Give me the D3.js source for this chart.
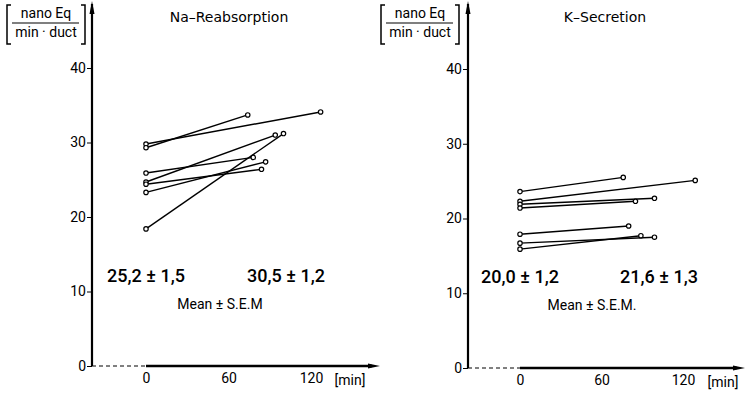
<!DOCTYPE html>
<html>
<head>
<meta charset="utf-8">
<script src="https://cdn.jsdelivr.net/npm/d3@7"></script>
<style>
  body { margin: 0; background: #fff; }
  svg { display: block; font-family: "DejaVu Sans", sans-serif; }
</style>
</head>
<body>
<svg id="chart" width="747" height="396"></svg>
<script>
// values
const yTicks = [0, 10, 20, 30, 40];
const xTicks = [0, 60, 120];

const naStart = [29.8, 29.3, 25.9, 24.7, 24.4, 23.3, 18.4];
const naEnd = [34.1, 33.7, 28.0, 31.0, 26.4, 27.4, 31.2];
const naEndTime = [127, 74, 78, 94, 84, 87, 100];

const kStart = [23.6, 22.3, 21.9, 21.4, 17.9, 16.7, 15.9];
const kEnd = [25.5, 25.1, 22.7, 22.3, 19.0, 17.5, 17.7];
const kEndTime = [76, 129, 99, 85, 80, 99, 89];

const naMeans = ['25,2 \u00b1 1,5', '30,5 \u00b1 1,2'];
const kMeans = ['20,0 \u00b1 1,2', '21,6 \u00b1 1,3'];

const svg = d3.select('#chart');

function drawPanel(cfg) {
  const x = d3.scaleLinear().domain([0, 120]).range([cfg.x0, cfg.x120]);
  const y = d3.scaleLinear().domain([0, 40]).range([cfg.y0, cfg.y40]);
  const g = svg.append('g');

  // y axis ticks + labels
  const yAxis = d3.axisLeft(y).tickValues(yTicks).tickSize(5).tickPadding(1);
  const ya = g.append('g')
    .attr('transform', `translate(${cfg.axisX},0)`)
    .call(yAxis);
  ya.select('.domain').remove();
  ya.selectAll('text').attr('font-size', 14).attr('font-family', 'Roboto').attr('fill', '#000');
  ya.selectAll('line').attr('stroke', '#000').attr('stroke-width', 1);

  // y axis line with arrow
  g.append('line')
    .attr('x1', cfg.axisX).attr('x2', cfg.axisX)
    .attr('y1', 4).attr('y2', cfg.y0)
    .attr('stroke', '#000').attr('stroke-width', 2.2);
  g.append('path')
    .attr('d', `M${cfg.axisX - 2.5},14 L${cfg.axisX},1 L${cfg.axisX + 2.5},14 Z`)
    .attr('fill', '#000');

  // x axis: dashed before 0, solid after with arrow
  g.append('line')
    .attr('x1', cfg.axisX).attr('x2', x(0))
    .attr('y1', cfg.y0).attr('y2', cfg.y0)
    .attr('stroke', '#000').attr('stroke-width', 1)
    .attr('stroke-dasharray', '4,3');
  g.append('line')
    .attr('x1', x(0)).attr('x2', cfg.arrowX - 8)
    .attr('y1', cfg.y0).attr('y2', cfg.y0)
    .attr('stroke', '#000').attr('stroke-width', 2.5);
  g.append('path')
    .attr('d', `M${cfg.arrowX - 12},${cfg.y0 - 2.5} L${cfg.arrowX},${cfg.y0} L${cfg.arrowX - 12},${cfg.y0 + 2.5} Z`)
    .attr('fill', '#000');

  const xAxis = d3.axisBottom(x).tickValues(xTicks).tickSize(0).tickPadding(7);
  const xa = g.append('g')
    .attr('transform', `translate(0,${cfg.y0})`)
    .call(xAxis);
  xa.select('.domain').remove();
  xa.selectAll('text').attr('font-size', 14).attr('font-family', 'Roboto').attr('fill', '#000');

  g.append('text')
    .attr('x', cfg.minX).attr('y', cfg.y0 + 19)
    .attr('text-anchor', 'middle').attr('font-size', 14).attr('font-family', 'Roboto')
    .text('[min]');

  // unit label in brackets
  const ul = cfg.unitX;
  g.append('text').attr('x', ul + 39).attr('y', 18)
    .attr('text-anchor', 'middle').attr('font-size', 14).attr('font-family', 'Roboto').text('nano Eq');
  g.append('line').attr('x1', ul + 5).attr('x2', ul + 72)
    .attr('y1', 23).attr('y2', 23).attr('stroke', '#000').attr('stroke-width', 1.2);
  g.append('text').attr('x', ul + 39).attr('y', 37)
    .attr('text-anchor', 'middle').attr('font-size', 14).attr('font-family', 'Roboto').text('min \u00b7 duct');
  g.append('path')
    .attr('d', `M${ul + 4},5 H${ul} V44 H${ul + 4}`)
    .attr('fill', 'none').attr('stroke', '#000').attr('stroke-width', 1.5);
  g.append('path')
    .attr('d', `M${ul + 74},5 H${ul + 78} V44 H${ul + 74}`)
    .attr('fill', 'none').attr('stroke', '#000').attr('stroke-width', 1.5);

  // title
  g.append('text')
    .attr('x', cfg.titleX).attr('y', 22)
    .attr('text-anchor', 'middle').attr('font-size', 14)
    .text(cfg.title);

  // paired measurements
  const pairs = cfg.start.map((s, i) => [[0, s], [cfg.endTime[i], cfg.end[i]]]);
  const line = d3.line().x(d => x(d[0])).y(d => y(d[1]));
  g.selectAll('.pair')
    .data(pairs)
    .join('path')
    .attr('class', 'pair')
    .attr('d', line)
    .attr('fill', 'none')
    .attr('stroke', '#000')
    .attr('stroke-width', 1.4);

  const pts = pairs.flat();
  g.selectAll('.pt')
    .data(pts)
    .join('circle')
    .attr('class', 'pt')
    .attr('cx', d => x(d[0]))
    .attr('cy', d => y(d[1]))
    .attr('r', 2.2)
    .attr('fill', '#fff')
    .attr('stroke', '#000')
    .attr('stroke-width', 1.2);

  // means
  g.append('text')
    .attr('x', x(0)).attr('y', cfg.meanY)
    .attr('text-anchor', 'middle').attr('font-size', 18)
    .attr('font-family', 'Roboto').attr('font-weight', 500)
    .text(cfg.means[0]);
  g.append('text')
    .attr('x', cfg.mean2X).attr('y', cfg.meanY)
    .attr('text-anchor', 'middle').attr('font-size', 18)
    .attr('font-family', 'Roboto').attr('font-weight', 500)
    .text(cfg.means[1]);
  g.append('text')
    .attr('x', cfg.semX).attr('y', cfg.meanY + 27)
    .attr('text-anchor', 'middle').attr('font-size', 14).attr('font-family', 'Roboto')
    .text(cfg.semLabel);
}

drawPanel({
  axisX: 92, x0: 146, x120: 311, y0: 366, y40: 68, arrowX: 380,
  minX: 350, unitX: 7, titleX: 229, title: 'Na\u2013Reabsorption',
  start: naStart, end: naEnd, endTime: naEndTime,
  means: naMeans, mean2X: 286, meanY: 282, semX: 220, semLabel: 'Mean \u00b1 S.E.M'
});

drawPanel({
  axisX: 468, x0: 520, x120: 683, y0: 368, y40: 69, arrowX: 745,
  minX: 723, unitX: 381, titleX: 605, title: 'K\u2013Secretion',
  start: kStart, end: kEnd, endTime: kEndTime,
  means: kMeans, mean2X: 659, meanY: 283, semX: 592, semLabel: 'Mean \u00b1 S.E.M.'
});
</script>
</body>
</html>
